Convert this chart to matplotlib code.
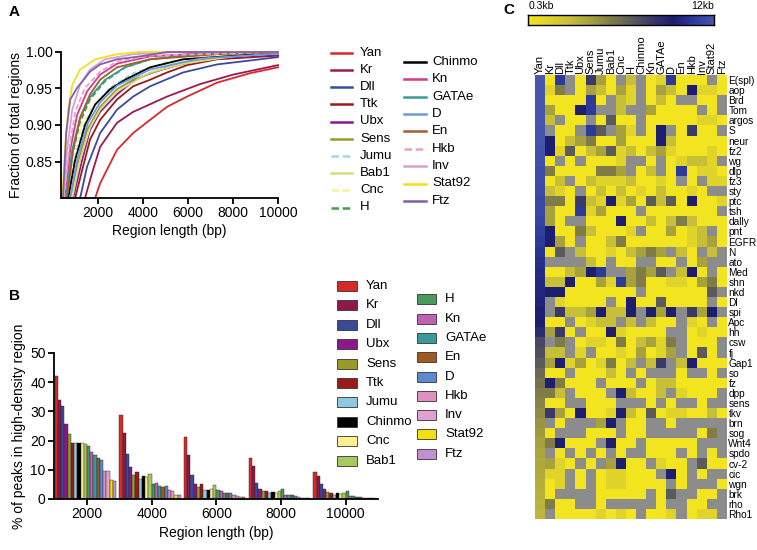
import matplotlib
matplotlib.use('Agg')
import matplotlib.pyplot as plt
import numpy as np
from matplotlib.colors import LinearSegmentedColormap
from matplotlib.patches import Rectangle

plt.rcParams['font.family'] = ['Liberation Sans', 'DejaVu Sans']

# ---------------- panel A : cumulative fraction of regions ----------------
# (region length bp, fraction)
cdf_yan = ([1870, 2090, 2840, 3560, 4310, 5070, 5960, 7290, 8760, 10000],
           [0.80, 0.820, 0.866, 0.889, 0.907, 0.925, 0.939, 0.958, 0.971, 0.979])
cdf_kr = ([1420, 1730, 2090, 2840, 3560, 5070, 6530, 8000, 10000],
          [0.80, 0.834, 0.870, 0.903, 0.918, 0.939, 0.956, 0.969, 0.982])
cdf_dll = ([1200, 1510, 2090, 2840, 3560, 4310, 5780, 7290, 9200, 10000],
           [0.80, 0.843, 0.889, 0.921, 0.939, 0.953, 0.972, 0.983, 0.990, 0.993])
cdf_ttk = ([980, 1290, 1640, 2090, 2840, 3560, 4310, 5070, 5960, 7290, 10000],
           [0.80, 0.838, 0.880, 0.907, 0.935, 0.953, 0.962, 0.972, 0.982, 0.990, 0.995])
cdf_ubx = ([890, 1290, 1640, 2090, 2840, 3560, 4310, 5780, 7290, 10000],
           [0.80, 0.852, 0.893, 0.918, 0.942, 0.960, 0.971, 0.984, 0.992, 0.996])
cdf_sens = ([760, 1070, 1510, 2090, 2840, 3560, 5070, 7290, 10000],
            [0.80, 0.845, 0.893, 0.925, 0.949, 0.962, 0.979, 0.993, 0.998])
cdf_jumu = ([620, 930, 1380, 1870, 2530, 3560, 5070, 7290, 10000],
            [0.80, 0.852, 0.900, 0.929, 0.951, 0.971, 0.986, 0.995, 0.999])
cdf_bab1 = ([850, 1200, 1640, 2090, 2840, 4310, 5780, 8000, 10000],
            [0.80, 0.852, 0.896, 0.921, 0.946, 0.972, 0.984, 0.994, 0.998])
cdf_cnc = ([580, 890, 1330, 1870, 2840, 4310, 6530, 10000],
           [0.80, 0.859, 0.904, 0.932, 0.955, 0.979, 0.993, 0.999])
cdf_h = ([530, 850, 1200, 1640, 2310, 3200, 4310, 6530, 10000],
         [0.80, 0.859, 0.904, 0.935, 0.960, 0.979, 0.990, 0.998, 1.0])
cdf_chinmo = ([670, 980, 1420, 1870, 2530, 3200, 4310, 5780, 10000],
              [0.80, 0.852, 0.900, 0.928, 0.949, 0.962, 0.979, 0.990, 0.999])
cdf_kn = ([530, 760, 1070, 1510, 2090, 2840, 4310, 6530, 10000],
          [0.80, 0.866, 0.914, 0.946, 0.969, 0.984, 0.994, 0.998, 1.0])
cdf_gatae = ([580, 850, 1200, 1640, 2310, 3200, 4310, 6530, 10000],
             [0.80, 0.866, 0.910, 0.938, 0.962, 0.979, 0.990, 0.997, 1.0])
cdf_d = ([760, 1110, 1550, 2090, 2840, 4310, 6530, 10000],
         [0.80, 0.859, 0.903, 0.931, 0.954, 0.976, 0.991, 0.998])
cdf_en = ([620, 890, 1200, 1640, 2090, 2840, 4310, 7290, 10000],
          [0.80, 0.866, 0.910, 0.942, 0.962, 0.979, 0.990, 0.997, 1.0])
cdf_hkb = ([490, 710, 980, 1420, 2090, 2840, 4310, 10000],
           [0.80, 0.866, 0.918, 0.951, 0.973, 0.987, 0.995, 1.0])
cdf_inv = ([440, 620, 850, 1200, 1640, 2310, 3560, 5640, 10000],
           [0.80, 0.866, 0.921, 0.955, 0.976, 0.990, 0.997, 1.0, 1.0])
cdf_stat92 = ([400, 530, 670, 850, 1200, 1870, 2840, 3870, 10000],
              [0.80, 0.866, 0.921, 0.955, 0.976, 0.990, 0.997, 1.0, 1.0])
cdf_ftz = ([440, 580, 760, 1070, 1640, 2090, 2840, 3870, 5070, 10000],
           [0.80, 0.889, 0.935, 0.951, 0.973, 0.983, 0.990, 0.994, 1.0, 1.0])

a_names = ['Yan', 'Kr', 'Dll', 'Ttk', 'Ubx', 'Sens', 'Jumu', 'Bab1', 'Cnc', 'H',
           'Chinmo', 'Kn', 'GATAe', 'D', 'En', 'Hkb', 'Inv', 'Stat92', 'Ftz']
a_curves = [cdf_yan, cdf_kr, cdf_dll, cdf_ttk, cdf_ubx, cdf_sens, cdf_jumu, cdf_bab1,
            cdf_cnc, cdf_h, cdf_chinmo, cdf_kn, cdf_gatae, cdf_d, cdf_en, cdf_hkb,
            cdf_inv, cdf_stat92, cdf_ftz]
a_colors = ['#d8282a', '#9a1a50', '#3a4aa0', '#9a1a1a', '#8a1a8a', '#9a9a30',
            '#a8d0ec', '#d8dc80', '#f8f0a0', '#4a9a4a', '#000000', '#d03a8a',
            '#3a9a9a', '#6a9ad8', '#a0602a', '#e8a0c8', '#d8a0d0', '#f0e020', '#8060a8']
a_dashed = ['Jumu', 'Cnc', 'H', 'Hkb']

# ---------------- panel B : % of peaks in high-density region ----------------
b_names = ['Yan', 'Kr', 'Dll', 'Ubx', 'Sens', 'Ttk', 'Jumu', 'Chinmo', 'Cnc', 'Bab1',
           'H', 'Kn', 'GATAe', 'En', 'D', 'Hkb', 'Inv', 'Stat92', 'Ftz']
b_colors = ['#d42a2a', '#8b1a4a', '#3a4a9a', '#8a1a8a', '#9a9a2a', '#9a1a1a',
            '#90c8e0', '#000000', '#f8f090', '#a8c860', '#4a9a5a', '#c060b0',
            '#3a9a9a', '#a05a20', '#5a8ad0', '#e090c0', '#e0a0d0', '#f0e010', '#c090d0']
group_starts = [1000, 3000, 5000, 7000, 9000]
peaks_1000 = [42, 34, 32, 25.7, 22.2, 19.3, 19.2, 19.2, 19.2, 18.8, 18.0, 16.2, 15.2, 14.0, 13.5, 9.7, 9.7, 6.5, 6.0]
peaks_3000 = [28.8, 22.6, 15.4, 11.0, 8.2, 9.4, 6.7, 7.8, 7.6, 8.5, 5.3, 5.5, 4.6, 4.1, 4.6, 3.0, 2.8, 1.3, 1.3]
peaks_5000 = [21.2, 15.0, 8.2, 5.3, 4.2, 5.2, 3.0, 3.2, 3.5, 4.7, 3.0, 2.8, 2.2, 2.1, 2.0, 1.2, 1.1, 0.8, 0.6]
peaks_7000 = [14.2, 11.4, 5.5, 3.4, 2.9, 2.9, 2.0, 2.5, 2.2, 2.8, 3.4, 1.5, 1.4, 1.2, 1.0, 0.6, 0.5, 0.3, 0.3]
peaks_9000 = [9.2, 8.0, 5.1, 3.4, 2.3, 1.9, 1.2, 1.9, 1.7, 2.0, 2.7, 0.9, 1.0, 0.8, 0.6, 0.5, 0.4, 0.3, 0.2]
peak_groups = [peaks_1000, peaks_3000, peaks_5000, peaks_7000, peaks_9000]

# ---------------- panel C : heatmap ----------------
tf_names = ['Yan', 'Kr', 'Dll', 'Ttk', 'Ubx', 'Sens', 'Jumu', 'Bab1', 'Cnc', 'H',
            'Chinmo', 'Kn', 'GATAe', 'D', 'En', 'Hkb', 'Inv', 'Stat92', 'Ftz']
gene_names = ['E(spl)', 'aop', 'Brd', 'Tom', 'argos', 'S', 'neur', 'fz2', 'wg', 'dlp',
              'fz3', 'sty', 'ptc', 'tsh', 'dally', 'pnt', 'EGFR', 'N', 'ato', 'Med',
              'shn', 'nkd', 'Dl', 'spi', 'Apc', 'hh', 'csw', 'fj', 'Gap1', 'so', 'fz',
              'dpp', 'sens', 'tkv', 'brn', 'sog', 'Wnt4', 'spdo', 'cv-2', 'cic', 'wgn',
              'brk', 'rho', 'Rho1']
# colour level of the Yan column (0 = 0.3kb yellow ... 9 = 12kb blue)
yan_level = [9.0, 9.0, 9.0, 9.0, 9.0, 8.9, 8.9, 8.8, 8.8, 8.7, 8.7, 8.6, 8.5, 8.5, 8.4,
             8.2, 8.0, 7.8, 7.6, 7.5, 7.4, 7.3, 7.2, 7.1, 7.0, 6.5, 5.6, 5.4, 5.0, 4.6,
             4.3, 4.0, 3.8, 3.6, 3.4, 3.2, 3.0, 2.9, 2.8, 2.7, 2.6, 2.5, 2.4, 2.3]
# levels for Kr..Ftz, one character per TF, '-' = no value (grey)
other_levels = [
    "08-0630-2-018000-0", "14-032031-03207110", "000080-21-020--00-",
    "30078--2--30000-0-", "2-00-0500-00000110", "-00-85-31-07-0600-",
    "702340030007200000", "715023512023100010", "0-0-0001--0-01221-",
    "40000443-02-080110", "02-0211120010-0-11", "210-020201020010--",
    "440621713052507001", "300813000-0000000-", "30--00070020242000",
    "700420001-003012-0", "730-00240000001230", "05-200102343-20-2-",
    "----20-00--00-03--", "002378--3435-270-0", "227003183400110340",
    "770000000-0000005-", "-10000-070050000-0", "-62237227-737-637-",
    "00-0122-2-200-10-0", "360-00710000--0100", "-4-0110402314-000-",
    "22-1-00103013-050-", "371301402-26-27000", "00-00020-0---0--0-",
    "74000-000-02200000", "42-000-72002-1000-", "00--000---0-0--0--",
    "630700172050110020", "-0---37-00--0-----", "0---000-00-----04-",
    "47000-700-00000---", "-0-0-0-0--000-0-0-", "310-0-3700-100-500",
    "11-0-011000-70-0--", "01-0-0110000-0---0", "0----00000-05--00-",
    "400--0-----0--00--", "-00001010-001-011-",
]

heat = np.full((len(gene_names), len(tf_names)), np.nan)
for r, row in enumerate(other_levels):
    heat[r, 0] = yan_level[r]
    for c, ch in enumerate(row):
        if ch != '-':
            heat[r, c + 1] = float(ch)

cmap = LinearSegmentedColormap.from_list('kb', [
    '#f2e41e', '#e0d42c', '#c8bf3a', '#a8a23e', '#807c48',
    '#5c5c5c', '#3a3a6a', '#1e1e70', '#2c3a9a', '#4656ae'])
cmap.set_bad('#8c8c8c')

W, H = 757, 550
fig = plt.figure(figsize=(W / 100, H / 100), dpi=100)


def box(l, t, r, b):
    return [l / W, 1 - b / H, (r - l) / W, (b - t) / H]


def style_axes(ax):
    for s in ['top', 'right']:
        ax.spines[s].set_visible(False)
    for s in ['left', 'bottom']:
        ax.spines[s].set_linewidth(1.3)
    ax.tick_params(width=1.3, length=4, labelsize=10, pad=2)


# panel A
axA = fig.add_axes(box(61, 52, 278, 198))
for name, (xs, ys), col in zip(a_names, a_curves, a_colors):
    ls = (0, (3, 1.5)) if name in a_dashed else '-'
    axA.plot(xs, ys, color=col, ls=ls, lw=1.3, clip_on=False)
axA.set_xlim(350, 10000)
axA.set_ylim(0.8, 1.0)
axA.set_xticks([2000, 4000, 6000, 8000, 10000])
axA.set_yticks([0.85, 0.90, 0.95, 1.00])
axA.set_yticklabels(['0.85', '0.90', '0.95', '1.00'])
style_axes(axA)
axA.set_xlabel('Region length (bp)', fontsize=10, labelpad=3)
axA.set_ylabel('Fraction of total regions', fontsize=10, labelpad=2)

# panel B
axB = fig.add_axes(box(54, 353, 378, 499))
for i, (name, col) in enumerate(zip(b_names, b_colors)):
    lefts = [g + 100 * i for g in group_starts]
    heights = [grp[i] for grp in peak_groups]
    axB.bar(lefts, heights, width=100, align='edge', color=col,
            edgecolor='#222222', linewidth=0.3)
axB.set_xlim(980, 11000)
axB.set_ylim(0, 50)
axB.set_xticks([2000, 4000, 6000, 8000, 10000])
axB.set_yticks([0, 10, 20, 30, 40, 50])
style_axes(axB)
axB.set_xlabel('Region length (bp)', fontsize=10, labelpad=3)
axB.set_ylabel('% of peaks in high-density region', fontsize=10, labelpad=3)

# panel C heatmap
axC = fig.add_axes(box(535, 75, 727, 519))
axC.imshow(np.ma.masked_invalid(heat), cmap=cmap, vmin=0, vmax=9,
           aspect='auto', interpolation='nearest')
axC.set_xticks(range(len(tf_names)))
axC.set_xticklabels(tf_names, rotation=90, fontsize=8)
axC.xaxis.tick_top()
axC.set_yticks(range(len(gene_names)))
axC.set_yticklabels(gene_names, fontsize=7.3)
axC.yaxis.tick_right()
axC.tick_params(length=0, pad=1)
for s in axC.spines.values():
    s.set_visible(False)

# colour bar
axCb = fig.add_axes(box(528, 15, 714, 25))
axCb.imshow(np.linspace(0, 9, 256)[None, :], cmap=cmap, vmin=0, vmax=9, aspect='auto')
axCb.set_xticks([])
axCb.set_yticks([])
for s in axCb.spines.values():
    s.set_linewidth(1.0)

# overlay in pixel coordinates for legends and panel letters
ov = fig.add_axes([0, 0, 1, 1])
ov.set_xlim(0, W)
ov.set_ylim(H, 0)
ov.axis('off')

ov.text(9, 12, 'A', fontsize=11, fontweight='bold', va='center')
ov.text(9, 296, 'B', fontsize=11, fontweight='bold', va='center')
ov.text(503, 10, 'C', fontsize=11, fontweight='bold', va='center')
ov.text(529, 6, '0.3kb', fontsize=7.5, va='center', ha='left')
ov.text(714, 6, '12kb', fontsize=7.5, va='center', ha='right')

# legend A
for i, (name, col) in enumerate(zip(a_names, a_colors)):
    if i < 10:
        x0, x1, tx, y = 331, 352, 360, 52.7 + 17.2 * i
    else:
        x0, x1, tx, y = 404, 426, 432, 61.7 + 17.4 * (i - 10)
    ls = (0, (3, 1.5)) if name in a_dashed else '-'
    ov.plot([x0, x1], [y, y], color=col, ls=ls, lw=1.8)
    ov.text(tx, y, name, fontsize=9.5, va='center')

# legend B
for i, (name, col) in enumerate(zip(b_names, b_colors)):
    if i < 10:
        x0, tx, y = 337, 366, 286 + 19.4 * i
    else:
        x0, tx, y = 416.5, 445, 299.3 + 19.3 * (i - 10)
    ov.add_patch(Rectangle((x0, y - 5), 19.5, 10, facecolor=col,
                           edgecolor='#333333', linewidth=0.6))
    ov.text(tx, y, name, fontsize=9.5, va='center')

fig.savefig('out.png', dpi=100)
